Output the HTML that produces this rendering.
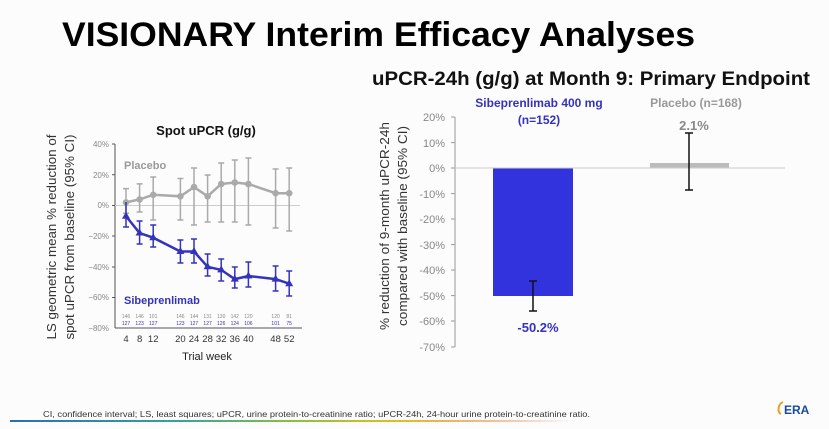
<!DOCTYPE html>
<html><head><meta charset="utf-8"><style>
html,body{margin:0;padding:0;background:#fdfdfd;}
svg{display:block;font-family:"Liberation Sans",Arial,sans-serif;}
</style></head><body>
<svg width="829" height="429" viewBox="0 0 829 429" xmlns="http://www.w3.org/2000/svg">
<rect width="829" height="429" fill="#fcfcfc"/>
<text x="62" y="46" font-size="34" font-weight="bold" textLength="633" lengthAdjust="spacingAndGlyphs" fill="#000">VISIONARY Interim Efficacy Analyses</text>

<!-- LEFT CHART -->
<text x="206" y="135" font-size="13" font-weight="bold" text-anchor="middle" fill="#111">Spot uPCR (g/g)</text>
<g font-size="13" fill="#333" text-anchor="middle">
<text transform="translate(56,237) rotate(-90)" textLength="205" lengthAdjust="spacingAndGlyphs">LS geometric mean % reduction of</text>
<text transform="translate(74,237) rotate(-90)" textLength="205" lengthAdjust="spacingAndGlyphs">spot uPCR from baseline (95% CI)</text>
</g>
<line x1="115" y1="144" x2="115" y2="328" stroke="#555" stroke-width="1"/>
<line x1="115" y1="328" x2="302" y2="328" stroke="#555" stroke-width="1"/>
<line x1="115" y1="205.5" x2="300" y2="205.5" stroke="#ccc" stroke-width="1"/>
<g font-size="8" fill="#888" text-anchor="end">
<text x="109" y="147">40%</text><text x="109" y="178">20%</text><text x="109" y="208">0%</text>
<text x="109" y="239">−20%</text><text x="109" y="270">−40%</text><text x="109" y="300">−60%</text><text x="109" y="331">−80%</text>
</g>
<g stroke="#555"><line x1="112" y1="144" x2="115" y2="144"/><line x1="112" y1="174.7" x2="115" y2="174.7"/><line x1="112" y1="205.5" x2="115" y2="205.5"/><line x1="112" y1="236" x2="115" y2="236"/><line x1="112" y1="267" x2="115" y2="267"/><line x1="112" y1="297.5" x2="115" y2="297.5"/></g>
<g font-size="9.5" fill="#333" text-anchor="middle">
<text x="126" y="342">4</text><text x="139.6" y="342">8</text><text x="153.2" y="342">12</text>
<text x="180.4" y="342">20</text><text x="194" y="342">24</text><text x="207.6" y="342">28</text><text x="221.2" y="342">32</text><text x="234.8" y="342">36</text><text x="248.4" y="342">40</text>
<text x="275.6" y="342">48</text><text x="289.2" y="342">52</text>
</g>
<text x="207" y="360" font-size="11" fill="#222" text-anchor="middle">Trial week</text>
<g font-size="5" fill="#888" text-anchor="middle">
<text x="126" y="318">146</text><text x="139.6" y="318">146</text><text x="153.2" y="318">101</text><text x="180.4" y="318">146</text><text x="194" y="318">144</text><text x="207.6" y="318">131</text><text x="221.2" y="318">130</text><text x="234.8" y="318">142</text><text x="248.4" y="318">120</text><text x="275.6" y="318">120</text><text x="289.2" y="318">81</text>
</g>
<g font-size="5" fill="#3333bb" text-anchor="middle">
<text x="126" y="325">127</text><text x="139.6" y="325">123</text><text x="153.2" y="325">127</text><text x="180.4" y="325">123</text><text x="194" y="325">127</text><text x="207.6" y="325">127</text><text x="221.2" y="325">126</text><text x="234.8" y="325">124</text><text x="248.4" y="325">106</text><text x="275.6" y="325">101</text><text x="289.2" y="325">75</text>
</g>
<!-- placebo -->
<g stroke="#aaa" stroke-width="1.5" fill="none">
<path d="M126 188.6V213.3M123 188.6H129M123 213.3H129"/>
<path d="M139.6 183.9V212M136.6 183.9H142.6M136.6 212H142.6"/>
<path d="M153.2 177V220M150.2 177H156.2M150.2 220H156.2"/>
<path d="M180.4 178.5V220M177.4 178.5H183.4M177.4 220H183.4"/>
<path d="M194 168V225M191 168H197M191 225H197"/>
<path d="M207.6 175V222M204.6 175H210.6M204.6 222H210.6"/>
<path d="M221.2 163V222M218.2 163H224.2M218.2 222H224.2"/>
<path d="M234.8 160V222M231.8 160H237.8M231.8 222H237.8"/>
<path d="M248.4 158V225M245.4 158H251.4M245.4 225H251.4"/>
<path d="M275.6 169V228M272.6 169H278.6M272.6 228H278.6"/>
<path d="M289.2 168V231M286.2 168H292.2M286.2 231H292.2"/>
<polyline stroke-width="2.5" points="126,202.4 139.6,199.4 153.2,194.8 180.4,196.3 194,187.1 207.6,196.3 221.2,184 234.8,182.5 248.4,184 275.6,193.2 289.2,193.2"/>
</g>
<g fill="#aaa">
<circle cx="126" cy="202.4" r="3.3"/><circle cx="139.6" cy="199.4" r="3.3"/><circle cx="153.2" cy="194.8" r="3.3"/><circle cx="180.4" cy="196.3" r="3.3"/><circle cx="194" cy="187.1" r="3.3"/><circle cx="207.6" cy="196.3" r="3.3"/><circle cx="221.2" cy="184" r="3.3"/><circle cx="234.8" cy="182.5" r="3.3"/><circle cx="248.4" cy="184" r="3.3"/><circle cx="275.6" cy="193.2" r="3.3"/><circle cx="289.2" cy="193.2" r="3.3"/>
</g>
<!-- sib -->
<g stroke="#3333bb" stroke-width="1.5" fill="none">
<path d="M126 202V227M123 227H129"/>
<path d="M139.6 221V244M136.6 221H142.6M136.6 244H142.6"/>
<path d="M153.2 225V247M150.2 225H156.2M150.2 247H156.2"/>
<path d="M180.4 240V263M177.4 240H183.4M177.4 263H183.4"/>
<path d="M194 239V263M191 239H197M191 263H197"/>
<path d="M207.6 254V276M204.6 254H210.6M204.6 276H210.6"/>
<path d="M221.2 259V281M218.2 259H224.2M218.2 281H224.2"/>
<path d="M234.8 267V288M231.8 267H237.8M231.8 288H237.8"/>
<path d="M248.4 262V287M245.4 262H251.4M245.4 287H251.4"/>
<path d="M275.6 266V291M272.6 266H278.6M272.6 291H278.6"/>
<path d="M289.2 271V296M286.2 271H292.2M286.2 296H292.2"/>
<polyline stroke-width="2.5" points="126,216.2 139.6,233 153.2,237.7 180.4,251.5 194,251.5 207.6,266.8 221.2,269.9 234.8,279.1 248.4,276 275.6,279.1 289.2,283.7"/>
</g>
<g fill="#3333bb">
<path d="M126 211.7l4 7h-8z"/><path d="M139.6 228.5l4 7h-8z"/><path d="M153.2 233.2l4 7h-8z"/><path d="M180.4 247l4 7h-8z"/><path d="M194 247l4 7h-8z"/><path d="M207.6 262.3l4 7h-8z"/><path d="M221.2 265.4l4 7h-8z"/><path d="M234.8 274.6l4 7h-8z"/><path d="M248.4 271.5l4 7h-8z"/><path d="M275.6 274.6l4 7h-8z"/><path d="M289.2 279.2l4 7h-8z"/>
</g>
<text x="124" y="169" font-size="11" font-weight="bold" fill="#999">Placebo</text>
<text x="124" y="304" font-size="11" font-weight="bold" fill="#3333bb">Sibeprenlimab</text>

<!-- RIGHT CHART -->
<text x="372" y="85" font-size="19" font-weight="bold" textLength="438" lengthAdjust="spacingAndGlyphs" fill="#111">uPCR-24h (g/g) at Month 9: Primary Endpoint</text>
<g font-size="13" fill="#333" text-anchor="middle">
<text transform="translate(389,226) rotate(-90)" textLength="208" lengthAdjust="spacingAndGlyphs">% reduction of 9-month uPCR-24h</text>
<text transform="translate(407,226) rotate(-90)" textLength="200" lengthAdjust="spacingAndGlyphs">compared with baseline (95% CI)</text>
</g>
<line x1="455" y1="117" x2="455" y2="347" stroke="#999"/>
<g stroke="#999"><line x1="451" y1="117" x2="455" y2="117"/><line x1="451" y1="142.6" x2="455" y2="142.6"/><line x1="451" y1="168" x2="455" y2="168"/><line x1="451" y1="193.6" x2="455" y2="193.6"/><line x1="451" y1="219" x2="455" y2="219"/><line x1="451" y1="244.6" x2="455" y2="244.6"/><line x1="451" y1="270" x2="455" y2="270"/><line x1="451" y1="295.6" x2="455" y2="295.6"/><line x1="451" y1="321" x2="455" y2="321"/><line x1="451" y1="347" x2="455" y2="347"/></g>
<g font-size="11" fill="#888" text-anchor="end">
<text x="445" y="121">20%</text><text x="445" y="147">10%</text><text x="445" y="172">0%</text><text x="445" y="198">-10%</text><text x="445" y="223">-20%</text><text x="445" y="249">-30%</text><text x="445" y="274">-40%</text><text x="445" y="300">-50%</text><text x="445" y="325">-60%</text><text x="445" y="351">-70%</text>
</g>
<rect x="493" y="168" width="80" height="128" fill="#3333dd"/>
<rect x="650" y="163" width="79" height="5" fill="#bbb"/>
<line x1="455" y1="168" x2="785" y2="168" stroke="#ccc"/>
<path d="M533 281V311M529 281H537M529 311H537" stroke="#111" stroke-width="1.5" fill="none"/>
<path d="M689 133V190M685 133H693M685 190H693" stroke="#111" stroke-width="1.5" fill="none"/>
<text x="539" y="107" font-size="12" font-weight="bold" fill="#3333bb" text-anchor="middle">Sibeprenlimab 400 mg</text>
<text x="539" y="124" font-size="12" font-weight="bold" fill="#3333bb" text-anchor="middle">(n=152)</text>
<text x="696" y="107" font-size="12" font-weight="bold" fill="#999" text-anchor="middle">Placebo (n=168)</text>
<text x="694" y="130" font-size="13" font-weight="bold" fill="#888" text-anchor="middle">2.1%</text>
<text x="538" y="332" font-size="13" font-weight="bold" fill="#3333bb" text-anchor="middle">-50.2%</text>

<!-- footer -->
<text x="43" y="417" font-size="8.5" fill="#333" textLength="547" lengthAdjust="spacingAndGlyphs">CI, confidence interval; LS, least squares; uPCR, urine protein-to-creatinine ratio; uPCR-24h, 24-hour urine protein-to-creatinine ratio.</text>
<defs><linearGradient id="g" x1="0" x2="1"><stop offset="0" stop-color="#2a6fb0"/><stop offset="0.3" stop-color="#3aa0a0"/><stop offset="0.5" stop-color="#88c040"/><stop offset="0.7" stop-color="#e0c020"/><stop offset="0.85" stop-color="#e08020" stop-opacity="0.5"/><stop offset="1" stop-color="#e04020" stop-opacity="0"/></linearGradient></defs>
<rect x="10" y="420" width="560" height="2" fill="url(#g)"/>
<path d="M783 402c-5 2-6 10-2 12" stroke="#e8a020" stroke-width="2" fill="none"/>
<text x="784" y="414" font-size="12" font-weight="bold" fill="#1a4aa0">ERA</text>
</svg>
</body></html>
